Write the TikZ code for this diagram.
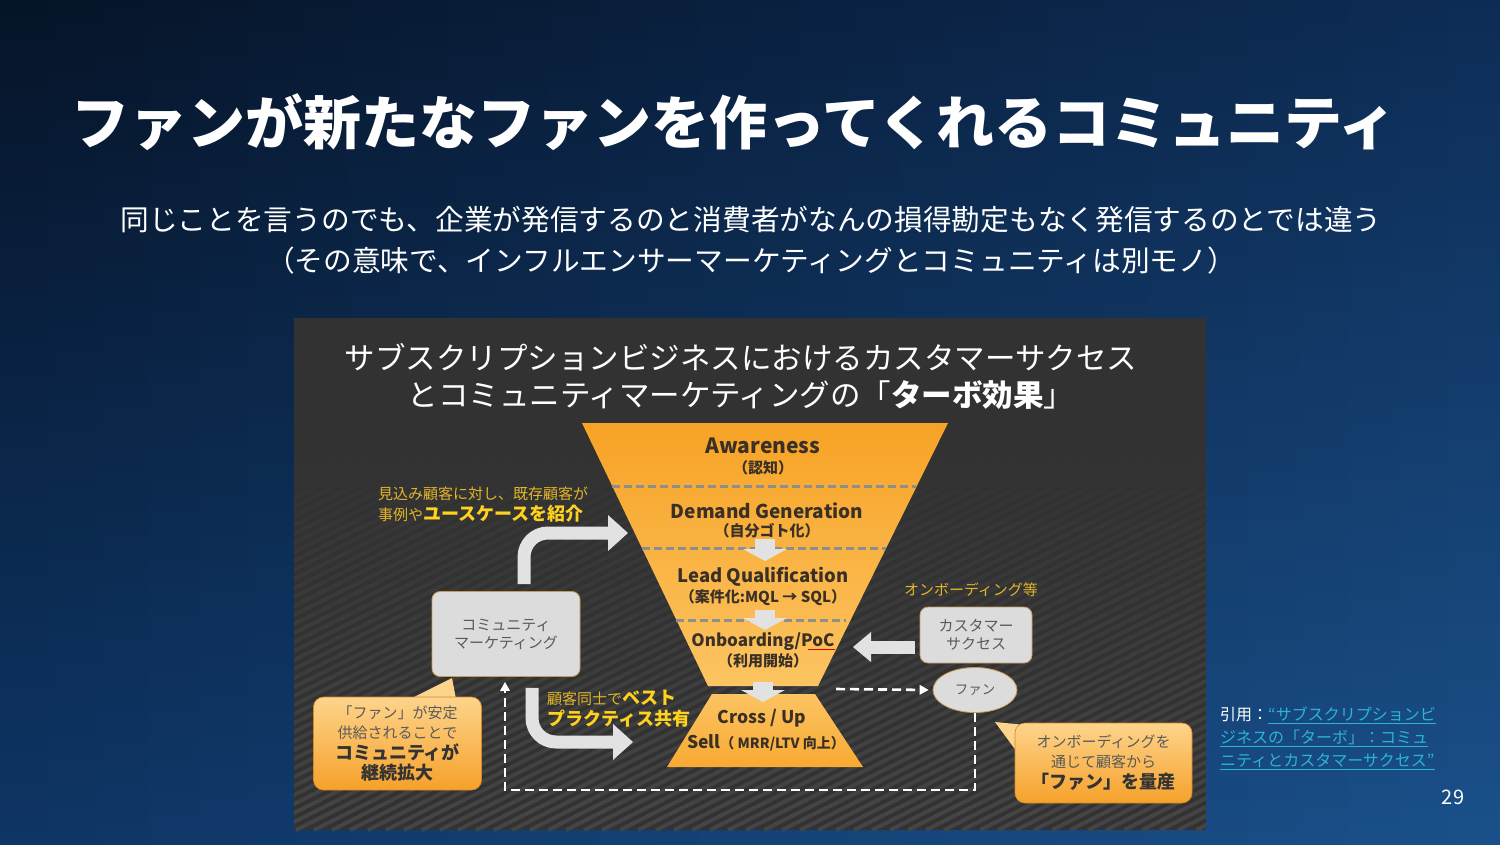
\documentclass[tikz,border=0pt]{standalone}
\usepackage{fontspec}
\setmainfont{Noto Sans CJK JP}
\usetikzlibrary{arrows.meta,positioning,shapes.geometric}

\definecolor{bgtl}{HTML}{061428}
\definecolor{bgtr}{HTML}{0D2C55}
\definecolor{bgbl}{HTML}{0E3565}
\definecolor{bgbr}{HTML}{1A5089}
\definecolor{panel}{HTML}{323232}
\definecolor{stripe}{HTML}{444444}
\definecolor{funtop}{HTML}{F7A325}
\definecolor{funbot}{HTML}{FCC462}
\definecolor{stagetxt}{HTML}{3A3026}
\definecolor{dashgray}{HTML}{8E8E8E}
\definecolor{boxfill}{HTML}{DCDCDC}
\definecolor{boxedge}{HTML}{C89A55}
\definecolor{boxtxt}{HTML}{5A5A5A}
\definecolor{gold}{HTML}{E3B52A}
\definecolor{goldbold}{HTML}{FFD21E}
\definecolor{calltop}{HTML}{FDD48C}
\definecolor{callbot}{HTML}{F6A12A}
\definecolor{arrowgray}{HTML}{E2E2E2}
\definecolor{linkcyan}{HTML}{2AB4D8}

\begin{document}
\begin{tikzpicture}[x=1pt,y=-1pt,
    every node/.style={inner sep=0pt},
    stage/.style={font=\bfseries\fontsize{#1}{22}\selectfont, text=stagetxt},
    stage/.default=18.5,
    stagesub/.style={font=\bfseries\fontsize{15}{17}\selectfont, text=stagetxt},
    sepline/.style={draw=dashgray, line width=3pt, dash pattern=on 8pt off 4pt},
    graybox/.style={draw=boxedge, fill=boxfill, rounded corners=8pt, line width=0.8pt,
      text=boxtxt, align=center, font=\fontsize{15}{18}\selectfont},
    callout/.style={draw=callbot!85!black, line width=0.6pt, top color=calltop, bottom color=callbot,
      rounded corners=10pt, align=center, text=boxtxt, font=\fontsize{15}{20}\selectfont},
    goldtext/.style={text=gold, align=left, font=\fontsize{15}{21}\selectfont},
    blockarrow/.style={draw=arrowgray, line width=13pt,
      -{Triangle[width=36pt,length=20pt,line width=0pt]}},
    minidown/.style={draw=arrowgray, line width=20pt,
      -{Triangle[width=44pt,length=12pt,line width=0pt]}},
    fanline/.style={draw=white, line width=2.6pt, dash pattern=on 9pt off 5pt,
      -{Triangle[width=10pt,length=9pt,line width=0pt]}}]

% slide background
\useasboundingbox (0,0) rectangle (1500,844);
\foreach \i in {0,...,29} {
  \pgfmathtruncatemacro\p{100*\i/29}
  \shade[top color=bgtr!\p!bgtl, bottom color=bgbr!\p!bgbl] (\i*50-0.6,0) rectangle (\i*50+50.6,844);
}

% headings
\node[text=white, font=\bfseries\fontsize{58}{62}\selectfont] (title) at (734,122) {ファンが新たなファンを作ってくれるコミュニティ};
\node[text=white, align=center, font=\fontsize{28.7}{41}\selectfont] (lead) at (751,240)
  {同じことを言うのでも、企業が発信するのと消費者がなんの損得勘定もなく発信するのとでは違う\\（その意味で、インフルエンサーマーケティングとコミュニティは別モノ）};

% picture panel, stripes growing toward the bottom
\fill[panel] (294,318) rectangle (1206,830);
\foreach \b in {0,...,11} {
  \pgfmathtruncatemacro\p{100*(\b+1)/12}
  \begin{scope}
    \clip (294,460+\b*31) rectangle (1206,491+\b*31);
    \foreach \s in {-460,-442,...,1206}
      \draw[draw=stripe!\p!panel, line width=4pt] (\s,830) -- ++(740,-370);
  \end{scope}
}

\node[text=white, align=center, font=\fontsize{30.5}{37}\selectfont] (ptitle) at (741,376)
  {サブスクリプションビジネスにおけるカスタマーサクセス\\とコミュニティマーケティングの「\textbf{ターボ効果}」};

% funnel
\shade[top color=funtop, bottom color=funbot] (582,423) -- (948,423) -- (818,686) -- (708,686) -- cycle;
\shade[top color=funbot, bottom color=funtop!80!funbot] (712,694) -- (815,694) -- (863,767) -- (667,767) -- cycle;
\draw[sepline] (612,486) -- (916,486);
\draw[sepline] (642,548) -- (886,548);
\draw[sepline] (676,620) -- (846,620);

\coordinate (dg1) at (765,539);
\coordinate (dg2) at (765,561);
\coordinate (lq1) at (765,610);
\coordinate (lq2) at (765,630);
\coordinate (ob1) at (763,682);
\coordinate (ob2) at (763,702);
\draw[minidown] (dg1) -- (dg2);
\draw[minidown] (lq1) -- (lq2);
\draw[minidown] (ob1) -- (ob2);

\node[stage=21] (aw) at (763,446) {Awareness};
\node[stagesub] (awsub) at (763,468) {（認知）};
\node[stage=19] (dg) at (767,511) {Demand Generation};
\node[stagesub] (dgsub) at (767,531) {（自分ゴト化）};
\node[stage] (lq) at (763,577) {Lead Qualification};
\node[stagesub] (lqsub) at (763,598) {（案件化:MQL → SQL）};
\node[stage=17] (ob) at (763,641) {Onboarding/PoC};
\node[stagesub] (obsub) at (763,661) {（利用開始）};
\draw[red!85!black, line width=0.9pt] ([xshift=-27pt,yshift=-3pt]ob.base east) -- ([yshift=-3pt]ob.base east);
\node[stage=17.5] (cu) at (762,718) {Cross / Up};
\node[stage=17.5] (cusell) at (766,743) {Sell{\fontsize{14}{18}\selectfont（ MRR/LTV 向上）}};

% community marketing
\node[graybox, minimum width=148pt, minimum height=85pt] (commu) at (506,634) {コミュニティ\\マーケティング};
\node[goldtext, anchor=west] (intro) at (378,505)
  {見込み顧客に対し、既存顧客が\\事例や{\bfseries\color{goldbold}\fontsize{18}{21}\selectfont ユースケースを紹介}};
\coordinate (introtip) at (628,533);
\draw[blockarrow, rounded corners=24pt] ([xshift=18pt,yshift=7pt]commu.north) |- (introtip);

\node[goldtext, anchor=west] (share) at (547,709)
  {顧客同士で{\bfseries\color{goldbold}\fontsize{18}{21}\selectfont ベスト}\\{\bfseries\color{goldbold}\fontsize{18}{21}\selectfont プラクティス共有}};
\coordinate (sharetip) at (633,742);
\draw[blockarrow, rounded corners=24pt] ([xshift=26pt,yshift=-11pt]commu.south) |- (sharetip);

% customer success and fans
\node[text=gold, font=\fontsize{15}{18}\selectfont] (onblabel) at (971,590) {オンボーディング等};
\node[graybox, minimum width=112pt, minimum height=56pt] (cs) at (976,635) {カスタマー\\サクセス};
\coordinate (onbtip) at (853,647);
\draw[blockarrow, -{Triangle[width=30pt,length=18pt,line width=0pt]}] ([xshift=-5pt,yshift=-12pt]cs.west) -- (onbtip);

\node[ellipse, draw=boxedge, line width=0.8pt, fill=boxfill, minimum width=84pt, minimum height=45pt,
  text=boxtxt, font=\fontsize{13.5}{16}\selectfont] (fan) at (975,690) {ファン};
\coordinate (fanfrom) at (836,689);
\coordinate (loopcorner) at (505,790);
\draw[fanline, shorten >=4pt] (fanfrom) -- (fan.west);
\draw[fanline, shorten >=5pt] (fan.south) |- (loopcorner) -- (loopcorner |- commu.south);

% callouts
\fill[calltop] (410,699) -- (452,678) -- (456,699) -- cycle;
\node[callout, minimum width=168pt, minimum height=93pt] (fancall) at (397.5,743.5)
  {「ファン」が安定\\供給されることで\\[1pt]{\bfseries\color{black!80}\fontsize{18}{21}\selectfont コミュニティが}\\{\bfseries\color{black!80}\fontsize{18}{21}\selectfont 継続拡大}};

\fill[calltop] (995,722) -- (1036,726) -- (1017,752) -- cycle;
\node[callout, minimum width=177pt, minimum height=80pt] (fancall2) at (1103.5,763)
  {オンボーディングを\\通じて顧客から\\[1pt]{\bfseries\color{black!80}\fontsize{18}{21}\selectfont 「ファン」を量産}};

% source and page number
\node[anchor=north west, align=left, text=white, font=\fontsize{16}{23}\selectfont] (cite) at (1220,707)
  {引用：{\color{linkcyan}\underline{“サブスクリプションビ}}\\{\color{linkcyan}\underline{ジネスの「ターボ」：コミュ}}\\{\color{linkcyan}\underline{ニティとカスタマーサクセス”}}};
\node[text=white, font=\fontsize{20}{22}\selectfont] (pagenum) at (1453,797) {29};
\end{tikzpicture}
\end{document}
